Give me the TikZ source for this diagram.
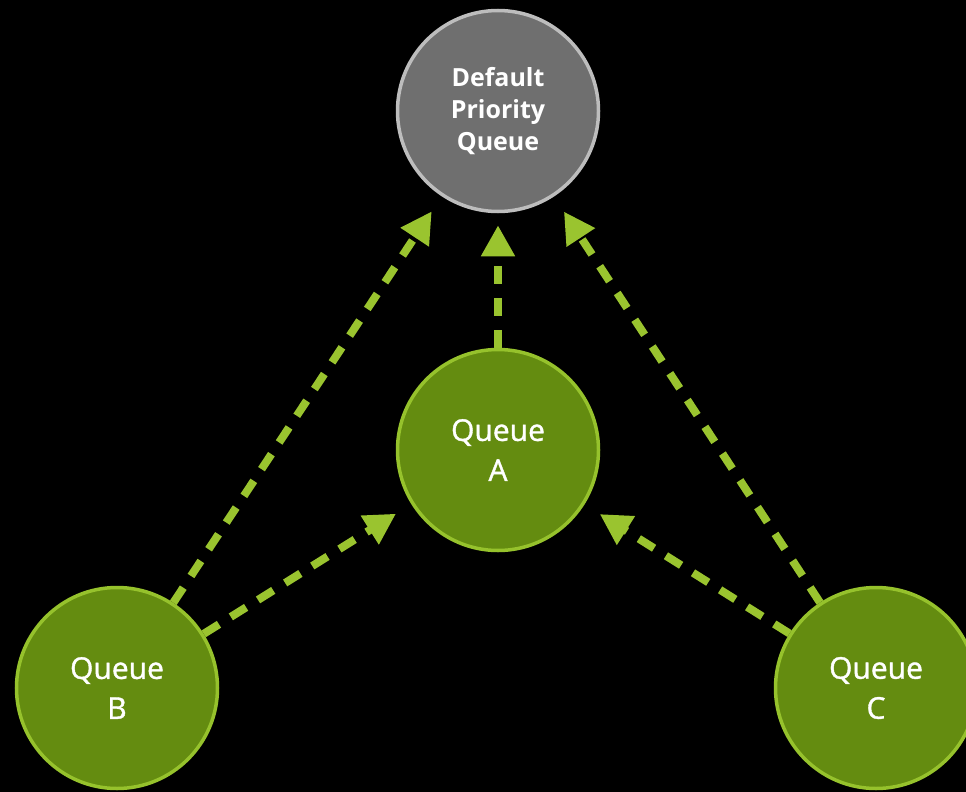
\documentclass[tikz,border=0pt]{standalone}
\usepackage{fontspec}
\setmainfont{Open Sans}
\newfontfamily\qfont[FakeBold=1.2]{Open Sans}
\usetikzlibrary{arrows.meta}
\pgfdeclarelayer{bg}
\pgfdeclarelayer{arrowlayer}
\pgfsetlayers{bg,arrowlayer,main}
\definecolor{gfill}{HTML}{648C10}
\definecolor{gline}{HTML}{96C22C}
\definecolor{dfill}{HTML}{6F6F6F}
\definecolor{dline}{HTML}{BDBDBD}
\definecolor{arr}{HTML}{9AC42F}
\tikzset{
  queuenode/.style={circle, minimum size=201pt, inner sep=0pt, fill=gfill, draw=gline, line width=3.5pt,
    text=white, align=center, font=\qfont\fontsize{30}{40}\selectfont},
  defnode/.style={circle, minimum size=201pt, inner sep=0pt, fill=dfill, draw=dline, line width=3.5pt,
    text=white, align=center, font=\fontsize{25}{32}\selectfont\bfseries},
  flow/.style={draw=arr, line width=8pt, dash pattern=on 18pt off 14pt,
    -{Triangle[length=31pt, width=32pt]}, shorten >=18pt}
}
\begin{document}
\begin{tikzpicture}[x=1pt, y=-1pt]
\begin{pgfonlayer}{bg}
\fill[black] (0,0) rectangle (966,792);
\end{pgfonlayer}
\useasboundingbox (0,0) rectangle (966,792);
\node[defnode] (def) at (498,111) {Default\\Priority\\Queue};
\node[queuenode] (qa) at (498,450) {Queue\\A};
\node[queuenode] (qb) at (117,688) {Queue\\B};
\node[queuenode] (qc) at (876,688) {Queue\\C};
\begin{pgfonlayer}{arrowlayer}
\draw[flow, shorten >=12pt] (qa.north) -- (def.south);
\draw[flow] (qb) -- (def);
\draw[flow] (qb) -- (qa);
\draw[flow] (qc) -- (def);
\draw[flow] (qc) -- (qa);
\end{pgfonlayer}
\end{tikzpicture}
\end{document}
